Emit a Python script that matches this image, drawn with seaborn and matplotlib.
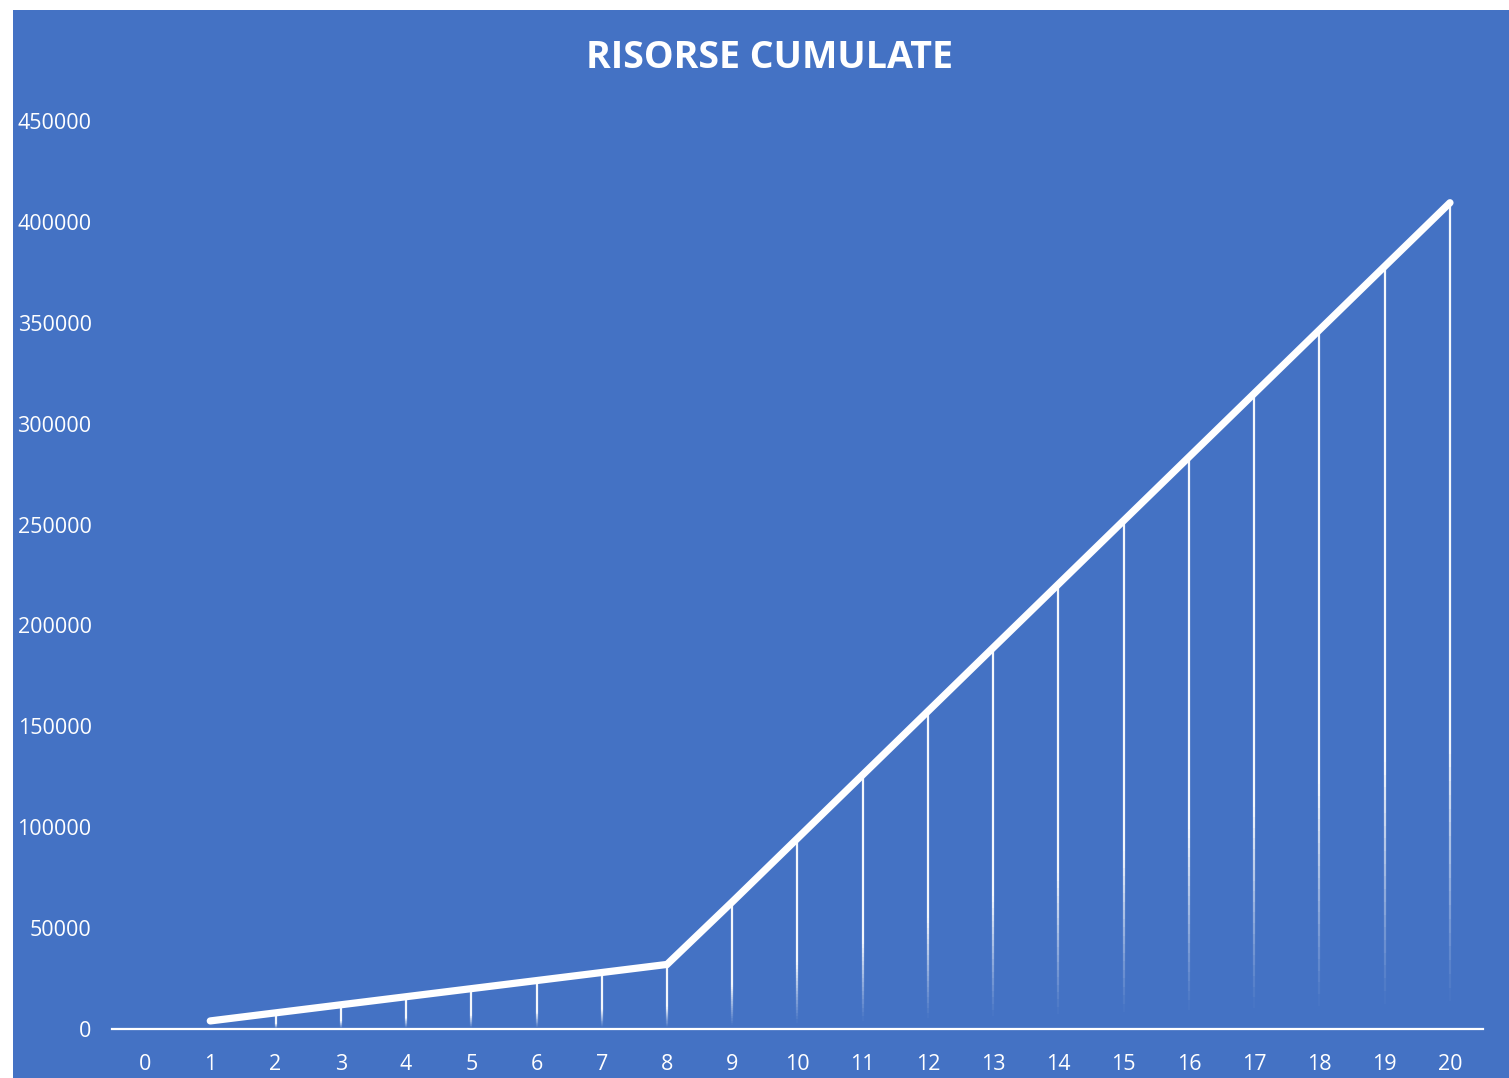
import numpy as np
import pandas as pd
import matplotlib
matplotlib.use("Agg")
import matplotlib.pyplot as plt
from matplotlib.collections import LineCollection
from matplotlib.patches import Rectangle
import seaborn as sns

# Categories on the x axis (0..20) and the cumulative resources per period
categories = list(range(0, 21))
periods = [1, 2, 3, 4, 5, 6, 7, 8, 9, 10, 11, 12, 13, 14, 15, 16, 17, 18, 19, 20]
cumulative = [4000, 8000, 12000, 16000, 20000, 24000, 28000, 32000,
              63000, 94500, 126000, 157500, 189000, 220500, 252000,
              283500, 315000, 346500, 378000, 409500]
y_ticks = [0, 50000, 100000, 150000, 200000, 250000, 300000, 350000, 400000, 450000]
title = "RISORSE CUMULATE"

BLUE = "#4472C4"
WHITE = "#FFFFFF"

sns.set_style("white")
plt.rcParams["font.family"] = ["Open Sans", "DejaVu Sans"]

df = pd.DataFrame({"periodo": periods, "risorse": cumulative})

fig = plt.figure(figsize=(15.09, 10.78), dpi=100, facecolor="white")
W, H = 1509, 1078
# chart area background
fig.patches.append(Rectangle((13 / W, 0), 1 - 13 / W, 1 - 10 / H,
                             transform=fig.transFigure, facecolor=BLUE,
                             edgecolor="none", zorder=-10))

ax = fig.add_axes([112.4 / W, 1 - 1029 / H, (1482.6 - 112.4) / W, (1029 - 121) / H])
ax.set_zorder(1)
ax.set_facecolor("none")

# drop lines from each point to the axis, fading out towards the bottom
segs, cols = [], []
n = 60
for x, y in zip(df["periodo"], df["risorse"]):
    if x == 1:
        continue
    edges = np.linspace(0, y, n + 1)
    for i in range(n):
        segs.append([(x, edges[i]), (x, edges[i + 1])])
        frac = (i + 0.5) / n
        a = np.clip((frac - 0.03) / 0.32, 0, 1) ** 1.1
        cols.append((1, 1, 1, 0.95 * a))
ax.add_collection(LineCollection(segs, colors=cols, linewidths=1.6,
                                 capstyle="butt", zorder=2))

sns.lineplot(data=df, x="periodo", y="risorse", ax=ax, color=WHITE,
             linewidth=5.2, solid_capstyle="round", solid_joinstyle="miter",
             zorder=3)

ax.set_xlim(-0.5, 20.5)
ax.set_ylim(0, 450000)
ax.set_xticks(categories)
ax.set_xticklabels([str(c) for c in categories])
ax.set_yticks(y_ticks)
ax.set_yticklabels([str(v) for v in y_ticks])
ax.set_xlabel("")
ax.set_ylabel("")
ax.tick_params(axis="both", length=0, colors=WHITE, labelsize=15.5)
ax.tick_params(axis="x", pad=18)
ax.tick_params(axis="y", pad=15)
for side in ["top", "left", "right"]:
    ax.spines[side].set_visible(False)
ax.spines["bottom"].set_color(WHITE)
ax.spines["bottom"].set_linewidth(1.6)
ax.spines["bottom"].set_zorder(4)
ax.grid(False)

fig.text(770 / W, 1 - 58 / H, title, ha="center", va="center",
         color=WHITE, fontsize=27, fontweight="bold")

fig.savefig("out.png", dpi=100, facecolor=fig.get_facecolor())
